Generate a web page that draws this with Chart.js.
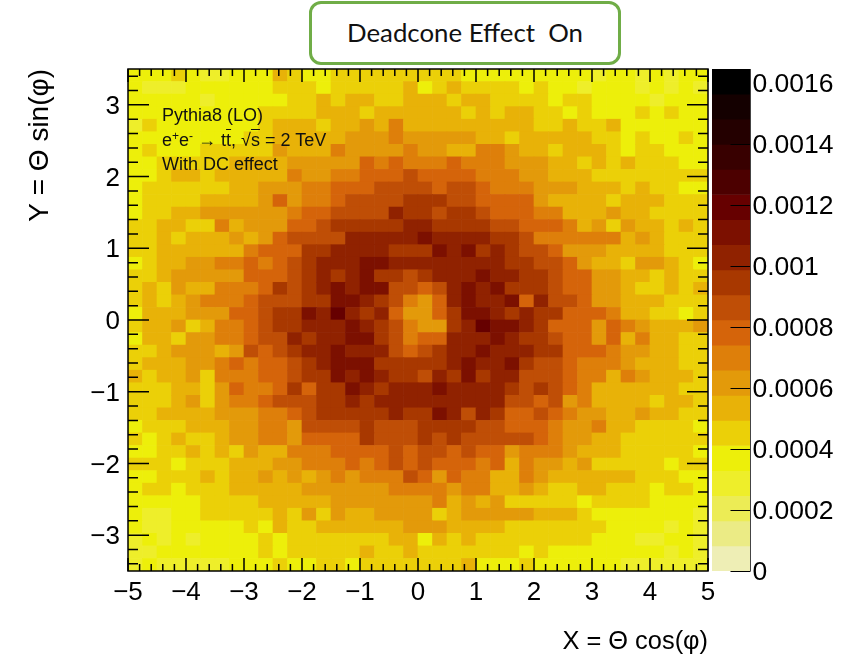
<!DOCTYPE html>
<html>
<head>
<meta charset="utf-8">
<script src="https://cdn.jsdelivr.net/npm/chart.js@4/dist/chart.umd.min.js"></script>
<style>
html,body{margin:0;padding:0;background:#fff;width:850px;height:657px;overflow:hidden}
#main{position:absolute;left:0;top:0}
#bar{position:absolute;left:700px;top:0}
#title{position:absolute;left:309px;top:1px;width:306px;height:58px;border:3px solid #70ad47;border-radius:12px;background:#fff;
 font-family:Lato,sans-serif;font-size:25.8px;color:#111;text-align:center;line-height:56px;white-space:pre}
.note{position:absolute;left:162px;font-family:"Liberation Sans",sans-serif;font-size:18px;color:#111;white-space:pre;line-height:20px}
.note sup{font-size:12px;line-height:0;vertical-align:6px}
</style>
</head>
<body>
<canvas id="main" width="850" height="657"></canvas>
<canvas id="bar" width="150" height="657"></canvas>
<div id="title">Deadcone Effect  On</div>
<div class="note" style="top:105px">Pythia8 (LO)</div>
<div class="note" style="top:130px">e<sup>+</sup>e<sup>-</sup> → t<span style="text-decoration:overline">t</span>, √<span style="text-decoration:overline">s</span> = 2 TeV</div>
<div class="note" style="top:154px">With DC effect</div>
<script>
const xRange = [-5, 5];
const yRange = [-3.5, 3.5];
const yTickValues = [-3, -2, -1, 0, 1, 2, 3];
const zMax = 0.001646;
const zUnit = 1e-5;
const xTitle = 'X = Θ cos(φ)';
const yTitle = 'Y = Θ sin(φ)';
const palette = ['#eeeeb5','#ebeb85','#ecec55','#eeee2a','#edef0a','#ebd008','#e8b208','#e39a0a','#de7f0a','#d5640a','#bf4e06','#a83800','#902200','#7c1000','#660000','#4c0000','#380000','#240000','#140000','#000000'];
// bin contents, in units of 1e-5, top row (y = +3.5) first, left column (x = -5) first
const zRows = [
[37,37,37,45,37,29,29,37,37,37,53,45,37,37,45,45,45,45,45,45,45,45,45,37,37,37,37,37,37,37,37,37,29,37,37,29,37,29,37,37],
[37,29,29,29,37,37,37,37,37,37,45,45,45,37,45,45,45,45,45,53,37,45,53,45,45,45,45,37,45,37,37,29,37,37,37,29,37,29,37,29],
[37,37,37,37,37,29,37,37,37,37,37,45,45,53,45,53,53,45,45,53,53,53,45,53,53,45,45,45,45,37,45,45,37,37,37,37,29,37,37,37],
[37,37,37,37,37,37,37,37,37,45,45,45,45,53,53,53,45,53,53,53,53,53,53,45,53,45,53,53,45,45,37,45,37,37,37,45,37,45,37,37],
[29,45,37,37,37,37,37,37,37,45,53,53,53,45,53,53,62,53,70,53,53,53,53,53,53,53,53,53,45,45,53,45,45,53,37,37,37,37,37,37],
[37,37,37,37,37,37,37,37,45,45,53,53,53,53,53,62,62,62,70,62,62,62,62,62,53,53,45,53,53,53,53,53,45,45,37,45,37,37,45,37],
[37,45,37,37,37,45,45,45,45,45,62,53,53,53,70,62,62,62,62,70,62,62,53,53,70,70,62,53,53,45,53,53,53,45,37,45,45,37,37,37],
[37,37,45,45,45,45,45,53,53,53,53,62,62,62,62,62,78,70,78,70,70,70,78,70,70,70,62,62,62,53,53,45,53,45,53,45,45,45,37,37],
[37,37,45,53,53,45,53,53,53,53,53,70,62,62,70,70,78,78,78,86,78,78,78,78,70,70,70,62,62,53,53,53,45,45,45,45,45,45,45,45],
[37,45,45,45,45,45,45,53,53,62,62,62,70,70,78,78,78,86,86,86,86,78,86,86,78,70,70,70,62,62,62,53,53,53,45,53,45,45,37,37],
[37,45,45,45,45,53,53,53,53,62,78,62,70,70,78,86,86,86,86,95,95,95,86,86,78,78,78,78,62,53,53,53,53,45,53,53,53,45,45,45],
[37,45,45,53,53,62,62,62,62,62,62,70,78,78,86,86,86,86,103,95,95,86,95,95,86,78,78,78,70,70,53,53,53,62,53,53,45,45,45,45],
[45,45,53,53,45,45,70,53,62,62,62,78,78,86,95,95,95,95,95,103,103,95,95,95,95,86,86,78,78,78,70,53,62,45,62,53,53,45,53,45],
[45,45,53,45,53,53,53,62,53,62,78,86,86,86,86,103,103,103,103,103,111,103,103,103,103,95,95,86,70,70,70,70,70,70,53,62,53,45,45,45],
[45,45,53,53,53,53,53,53,70,78,78,78,95,95,103,103,103,103,95,95,95,111,103,111,95,103,95,86,86,78,62,62,62,53,53,53,53,45,45,45],
[37,45,53,53,62,62,70,70,78,70,78,86,95,103,103,103,111,111,103,103,103,103,103,103,103,103,95,95,86,86,78,62,53,53,45,62,62,53,45,37],
[45,45,53,62,62,62,62,62,78,78,78,86,95,103,95,103,111,95,95,86,95,103,103,103,111,103,103,95,95,86,78,78,62,62,53,53,45,53,45,45],
[45,53,45,62,53,53,70,70,70,78,95,86,95,103,111,103,111,111,86,86,78,86,103,111,103,111,95,95,95,86,78,78,62,62,53,45,45,53,45,53],
[45,53,45,53,62,70,70,70,78,86,86,86,95,95,111,111,103,95,86,70,62,78,103,111,103,103,111,78,103,86,86,78,62,62,53,53,53,45,45,45],
[37,53,53,53,62,62,62,78,78,86,95,95,111,103,119,103,95,103,78,62,62,78,95,111,111,103,95,103,95,95,78,78,78,70,53,53,45,45,37,45],
[45,53,53,62,45,53,70,70,78,86,95,95,103,103,103,111,103,95,86,70,62,62,95,103,119,111,111,103,95,78,78,78,62,78,70,62,53,53,53,62],
[37,53,53,45,62,62,70,70,78,86,86,103,95,103,103,111,111,95,86,70,78,78,103,103,103,111,103,95,95,86,78,78,62,78,53,70,53,53,45,45],
[45,45,53,62,62,62,53,62,86,78,86,95,103,103,111,103,103,103,86,78,86,95,103,103,111,103,103,103,95,95,78,78,78,70,62,62,53,53,45,45],
[45,53,53,53,62,62,70,78,70,78,78,86,95,103,111,111,111,95,95,95,95,95,103,111,103,103,111,95,86,86,78,70,70,70,62,53,53,53,45,45],
[53,45,53,53,62,45,70,70,70,78,78,86,95,95,111,103,111,103,95,95,86,103,95,111,95,103,103,86,86,86,78,70,70,53,70,62,53,53,53,45],
[45,45,45,53,53,45,62,78,70,70,78,95,78,95,95,111,103,95,103,103,103,111,103,103,103,103,95,86,95,86,78,70,53,53,53,53,53,53,45,45],
[45,45,45,53,62,45,62,70,70,78,86,86,86,95,95,103,95,103,103,103,103,103,103,103,103,103,86,86,78,86,62,70,53,53,53,53,45,53,53,45],
[45,45,53,53,53,53,62,62,62,70,70,78,86,95,95,95,95,95,103,95,95,111,103,86,103,95,78,78,86,78,70,62,62,53,53,62,53,53,45,45],
[37,45,45,45,53,53,53,62,62,70,70,62,86,86,86,86,95,86,86,86,95,95,95,95,86,86,78,78,78,70,62,62,70,53,53,45,45,45,45,37],
[45,37,45,53,45,45,53,62,62,70,70,62,78,78,78,78,95,86,86,86,95,86,95,86,86,86,86,86,78,70,62,62,53,53,45,45,45,45,45,45],
[37,37,45,45,53,45,53,45,62,53,53,70,70,70,78,78,78,78,86,78,86,86,78,86,78,78,62,70,70,70,62,53,53,53,45,45,45,45,45,37],
[45,45,45,37,45,45,45,53,53,53,62,62,70,70,70,78,70,78,86,78,86,78,78,78,70,78,53,70,62,62,53,62,45,45,45,45,45,37,45,45],
[37,37,45,45,45,53,45,53,53,62,53,62,53,62,70,62,70,70,70,86,78,62,78,70,70,53,53,70,62,53,53,53,53,53,53,45,45,45,37,37],
[37,45,45,37,45,45,45,53,53,53,53,53,62,62,62,62,62,62,70,70,70,70,62,70,70,53,53,62,53,45,45,53,53,45,45,45,37,45,45,37],
[37,37,37,37,37,45,45,45,45,53,53,53,53,53,62,62,62,62,62,62,62,70,53,62,53,62,45,45,45,45,45,37,45,45,45,45,37,37,37,37],
[37,29,29,37,37,45,45,45,45,45,53,45,62,45,62,53,53,62,62,62,62,45,53,62,62,62,62,62,53,53,53,45,37,37,37,37,37,37,37,29],
[37,29,29,37,37,37,37,37,45,37,53,45,45,53,53,53,53,53,53,62,62,62,53,53,53,53,45,45,45,45,45,45,45,37,37,37,37,29,37,29],
[29,37,29,37,29,37,37,37,37,45,37,45,45,45,45,45,45,45,53,53,37,53,45,53,45,45,45,45,45,45,45,45,37,37,37,29,29,37,37,29],
[29,29,37,37,37,37,37,37,37,45,37,45,45,45,45,45,53,45,45,53,45,45,45,45,45,45,45,37,45,37,37,37,37,37,37,37,37,29,37,29],
[29,37,29,29,29,29,29,37,37,37,45,37,37,45,45,37,45,45,45,45,45,45,45,53,37,37,37,45,37,37,37,37,37,37,29,29,29,29,29,29]
];
const font = '"Liberation Sans", Arial, sans-serif';
const nRows = zRows.length, nCols = zRows[0].length;
const dx = (xRange[1]-xRange[0])/nCols, dy = (yRange[1]-yRange[0])/nRows;
const levelWidth = zMax/palette.length;
const colorOf = v => palette[Math.min(palette.length-1, Math.floor(v/levelWidth))];

const cells = [], cellColors = [];
zRows.forEach((row, r) => row.forEach((v, c) => {
  const top = yRange[1]-r*dy;
  cells.push({x: xRange[0]+(c+0.5)*dx, y: [top-dy, top]});
  cellColors.push(colorOf(v*zUnit));
}));

const fix = n => Math.round(n*1e6)/1e6;
function inwardTicks(ctx, scale, area, step, sub, majLen, minLen, horizontal){
  const lo = scale.min, hi = scale.max;
  const first = Math.ceil(fix(lo/(step/sub)));
  ctx.strokeStyle = '#000'; ctx.lineWidth = 1.5;
  for(let i=first; i*(step/sub) <= hi+1e-9; i++){
    const v = fix(i*step/sub), isMaj = i%sub===0, len = isMaj?majLen:minLen;
    const p = scale.getPixelForValue(v);
    ctx.beginPath();
    if(horizontal){ ctx.moveTo(p,area.bottom); ctx.lineTo(p,area.bottom-len); ctx.moveTo(p,area.top); ctx.lineTo(p,area.top+len); }
    else { ctx.moveTo(area.left,p); ctx.lineTo(area.left+len,p); ctx.moveTo(area.right,p); ctx.lineTo(area.right-len,p); }
    ctx.stroke();
  }
}
const framePlugin = {
  id:'frame',
  afterDatasetsDraw(chart){
    const {ctx, chartArea:a, scales} = chart;
    ctx.save();
    inwardTicks(ctx, scales.x, a, 1, 5, 13, 7, true);
    inwardTicks(ctx, scales.y, a, 1, 5, 21, 10, false);
    ctx.strokeStyle='#000'; ctx.lineWidth=1.5;
    ctx.strokeRect(a.left,a.top,a.right-a.left,a.bottom-a.top);
    ctx.restore();
  }
};
new Chart(document.getElementById('main'),{
  type:'bar',
  data:{datasets:[{data:cells, backgroundColor:cellColors, borderWidth:0, barPercentage:1, categoryPercentage:1}]},
  options:{
    responsive:false, animation:false, events:[],
    layout:{padding:{left:0,right:142,top:69,bottom:0}},
    plugins:{legend:{display:false},tooltip:{enabled:false},title:{display:false}},
    scales:{
      x:{type:'linear',min:xRange[0],max:xRange[1],offset:false,
        grid:{display:false,offset:false},border:{display:false},
        ticks:{stepSize:1,autoSkip:false,maxRotation:0,padding:-2,color:'#000',font:{family:font,size:26},
          callback:v=>String(v).replace('-','\u2212')},
        title:{display:true,text:xTitle,align:'end',color:'#000',font:{family:font,size:25.4},padding:{top:0,bottom:0}},
        afterFit(s){s.height=86;}},
      y:{type:'linear',min:yRange[0],max:yRange[1],
        grid:{display:false},border:{display:false},
        afterBuildTicks(s){s.ticks=yTickValues.map(v=>({value:v}));},
        ticks:{autoSkip:false,padding:0,labelOffset:2,color:'#000',font:{family:font,size:26},
          callback:v=>String(v).replace('-','\u2212')},
        title:{display:true,text:yTitle,align:'end',color:'#000',font:{family:font,size:28},padding:{top:23,bottom:0}},
        afterFit(s){s.width=128;}}
    }
  },
  plugins:[framePlugin]
});

const barCells = palette.map((c,i)=>({x:0.5,y:[i*levelWidth,(i+1)*levelWidth]}));
const barTickPlugin = {
  id:'barTicks',
  afterDatasetsDraw(chart){
    const {ctx, chartArea:a, scales} = chart;
    ctx.save();
    ctx.strokeStyle='#000'; ctx.lineWidth=1;
    scales.y.ticks.forEach(t=>{
      const p=Math.round(scales.y.getPixelForValue(t.value))+0.5;
      ctx.beginPath(); ctx.moveTo(a.right,p); ctx.lineTo(a.right-20,p); ctx.stroke();
    });
    ctx.strokeStyle='#444';
    ctx.beginPath(); ctx.moveTo(a.right,a.top); ctx.lineTo(a.right,a.bottom); ctx.stroke();
    ctx.restore();
  }
};
new Chart(document.getElementById('bar'),{
  type:'bar',
  data:{datasets:[{data:barCells, backgroundColor:palette, borderWidth:0, barPercentage:1, categoryPercentage:1}]},
  options:{
    responsive:false, animation:false, events:[],
    layout:{padding:{left:12,right:0,top:69,bottom:86}},
    plugins:{legend:{display:false},tooltip:{enabled:false}},
    scales:{
      x:{type:'linear',min:0,max:1,offset:false,display:false},
      y:{type:'linear',position:'right',min:0,max:zMax,
        grid:{display:false},border:{display:false},
        ticks:{stepSize:0.0002,includeBounds:false,autoSkip:false,padding:-6,labelOffset:2,color:'#000',font:{family:font,size:26.5},
          callback:v=>String(+v.toFixed(4))},
        afterFit(s){s.width=99.5;}}
    }
  },
  plugins:[barTickPlugin]
});
</script>
</body>
</html>
